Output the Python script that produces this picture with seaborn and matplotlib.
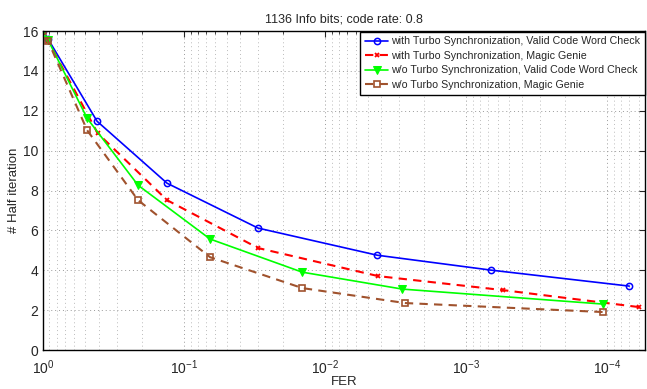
import numpy as np
import pandas as pd
import seaborn as sns
import matplotlib.pyplot as plt
from matplotlib.ticker import LogLocator, NullFormatter

fer_ts_vc = [1.0, 0.92, 0.414, 0.132, 0.0299, 0.00428, 6.65e-4, 6.98e-5]
it_ts_vc = [16.0, 15.6, 11.48, 8.37, 6.12, 4.76, 4.01, 3.21]

fer_ts_mg = [1.0, 0.92, 0.41, 0.132, 0.0299, 0.0042, 5.5e-4, 6.0e-5]
it_ts_mg = [16.0, 15.5, 10.88, 7.52, 5.12, 3.71, 3.01, 2.16]

fer_nts_vc = [1.0, 0.92, 0.487, 0.212, 0.0654, 0.01456, 0.00284, 1.08e-4]
it_nts_vc = [16.0, 15.55, 11.63, 8.27, 5.57, 3.91, 3.06, 2.31]

fer_nts_mg = [1.0, 0.92, 0.487, 0.212, 0.0654, 0.0145, 0.00271, 1.08e-4]
it_nts_mg = [16.0, 15.5, 11.03, 7.52, 4.66, 3.11, 2.36, 1.91]

labels = ['with Turbo Synchronization, Valid Code Word Check',
          'with Turbo Synchronization, Magic Genie',
          'w/o Turbo Synchronization, Valid Code Word Check',
          'w/o Turbo Synchronization, Magic Genie']

sns.set_style('white')
plt.rcParams['font.family'] = ['Liberation Sans', 'DejaVu Sans']

fig = plt.figure(figsize=(6.47, 3.89), dpi=100)
ax = fig.add_axes([0.0665, 0.100, 0.931, 0.820])

sns.lineplot(x=fer_ts_vc, y=it_ts_vc, ax=ax, color='#0000ff', lw=1.2,
             marker='o', markersize=4.5, markerfacecolor='none',
             markeredgecolor='#0000ff', markeredgewidth=1.1, label=labels[0])
sns.lineplot(x=fer_ts_mg, y=it_ts_mg, ax=ax, color='#ff0000', lw=1.5,
             linestyle=(0, (4, 3)), marker='x', markersize=3.5,
             markeredgecolor='#ff0000', markeredgewidth=1.3, label=labels[1])
sns.lineplot(x=fer_nts_vc, y=it_nts_vc, ax=ax, color='#00ff00', lw=1.2,
             marker='v', markersize=5.5, markerfacecolor='#00ff00',
             markeredgecolor='#00ff00', label=labels[2])
sns.lineplot(x=fer_nts_mg, y=it_nts_mg, ax=ax, color='#a0522d', lw=1.5,
             linestyle=(0, (4, 3)), marker='s', markersize=4,
             markerfacecolor='none', markeredgecolor='#a0522d',
             markeredgewidth=1.2, label=labels[3])

ax.set_xscale('log')
ax.set_xlim(1.0, 10**-4.27)
ax.set_ylim(0, 16)
ax.set_yticks(range(0, 17, 2))
ax.xaxis.set_major_locator(LogLocator(base=10, numticks=10))
ax.xaxis.set_minor_locator(LogLocator(base=10, subs=np.arange(2, 10), numticks=20))
ax.xaxis.set_minor_formatter(NullFormatter())

ax.grid(True, which='major', axis='both', color='#999999', linestyle=(0, (1, 3)), lw=0.7)
ax.grid(True, which='minor', axis='x', color='#bbbbbb', linestyle=(0, (1, 3)), lw=0.7)
ax.tick_params(which='both', direction='in', top=True, right=True, labelsize=10)
ax.tick_params(which='major', length=4)
ax.tick_params(which='minor', length=2)
ax.tick_params(axis='x', which='major', pad=6)
for s in ax.spines.values():
    s.set_color('black')
    s.set_linewidth(1.0)

ax.set_title('1136 Info bits; code rate: 0.8', fontsize=9)
ax.set_xlabel('FER', fontsize=9.5, labelpad=-1)
ax.set_ylabel('# Half iteration', fontsize=9.5, labelpad=2)

leg = ax.legend(loc='upper right', fontsize=7.7, frameon=True, fancybox=False,
                borderpad=0.45, labelspacing=0.42, handlelength=2.2,
                handletextpad=0.25, borderaxespad=0.05, numpoints=1)
leg.get_frame().set_edgecolor('black')
leg.get_frame().set_linewidth(1.0)
leg.get_frame().set_alpha(1)

fig.savefig('out.png', dpi=100)
